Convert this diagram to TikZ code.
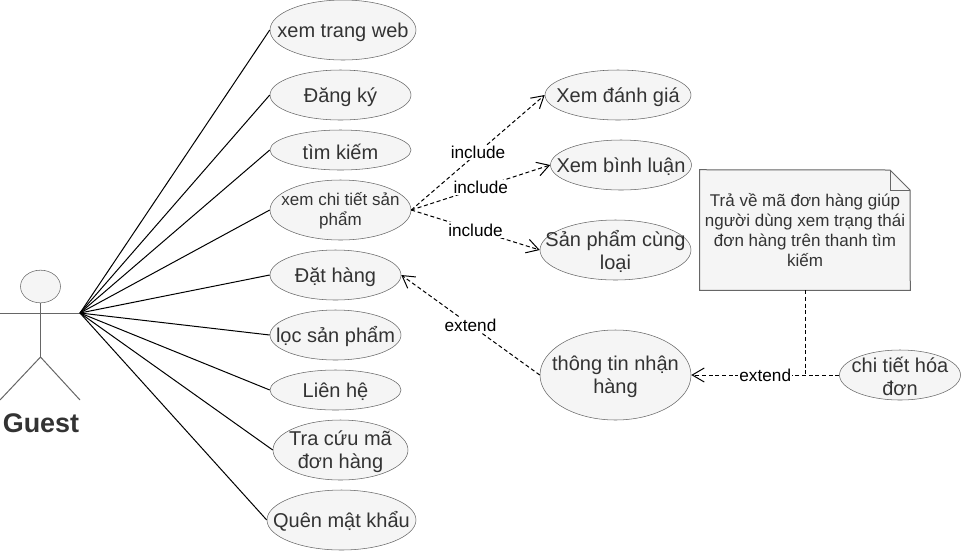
\documentclass[tikz,border=0pt]{standalone}
\usepackage{fontspec}
\setmainfont{Liberation Sans}
\usetikzlibrary{shapes.geometric,arrows.meta}
\definecolor{usefill}{HTML}{F5F5F5}
\definecolor{usedraw}{HTML}{666666}
\definecolor{usetext}{HTML}{333333}
\tikzset{
  main/.style 2 args = {draw=usedraw, fill=usefill, text=usetext, ellipse, inner xsep=-80pt, inner ysep=-40pt, align=center,
    minimum width=#1*0.75pt, minimum height=#2*0.75pt, text height=14pt, font=\fontsize{15}{17.5}\selectfont},
  two/.style = {text height=31.5pt},
  small/.style = {text height=26.5pt, font=\fontsize{12.75}{15}\selectfont},
  notetxt/.style = {text=usetext, align=center, inner sep=0pt, font=\fontsize{12.75}{15}\selectfont},
  assoc/.style = {draw=black, line width=0.75pt},
  dep/.style = {draw=black, line width=0.75pt, densely dashed, -{Straight Barb[length=9pt,width=10.5pt]}},
  lbl/.style = {fill=white, inner sep=1pt, text=black, font=\fontsize{12.9}{15}\selectfont},
  stick/.style = {draw=usedraw, line width=0.75pt}
}
\begin{document}
\begin{tikzpicture}[x=0.75pt, y=-0.75pt]
\useasboundingbox (0,0) rectangle (961,551);
% actor
\node[draw=usedraw, fill=usefill, ellipse, minimum width=30pt, minimum height=24.5pt, inner sep=0pt] (head) at (40.5,286.5) {};
\coordinate (guest) at (80,313);
\coordinate (armL) at (0,313);
\coordinate (hip) at (40.5,357);
\coordinate (legL) at (0,400);
\coordinate (legR) at (80,400);
\draw[stick] (head) -- (hip);
\draw[stick] (armL) -- (guest);
\draw[stick] (legL) -- (hip) -- (legR);
\node[text=usetext, inner sep=0pt, font=\fontsize{20.2}{24}\selectfont\bfseries] (name) at (41,423) {Guest};
% use cases
\node[main={146}{60}] (web) at (343,30) {xem trang web};
\node[main={141}{50}] (dangky) at (340.5,95) {Đăng ký};
\node[main={141}{40}] (timkiem) at (340.5,150) {tìm kiếm};
\node[main={141}{60}, small] (chitiet) at (340.5,210) {xem chi tiết sản\\phẩm};
\node[main={131}{50}] (dathang) at (335.5,275) {Đặt hàng};
\node[main={131}{50}] (loc) at (335.5,335) {lọc sản phẩm};
\node[main={131}{40}] (lienhe) at (335.5,390) {Liên hệ};
\node[main={135}{60}, two] (tracuu) at (340.5,450) {Tra cứu mã\\đơn hàng};
\node[main={149}{60}] (quenmk) at (341.5,520) {Quên mật khẩu};
\node[main={146}{50}] (danhgia) at (618,95) {Xem đánh giá};
\node[main={141}{50}] (binhluan) at (621,165) {Xem bình luận};
\node[main={151}{60}, two] (cungloai) at (615.5,250) {Sản phẩm cùng\\loại};
\node[main={151}{90}, two] (nhanhang) at (615.5,375) {thông tin nhận\\hàng};
\node[main={121}{50}, two] (hoadon) at (900,375) {chi tiết hóa\\đơn};
% note
\node[minimum width=157.5pt, minimum height=90pt, inner sep=0pt] (note) at (805,230) {};
\coordinate (fold) at (890,170);
\coordinate (foldb) at (910,190);
\coordinate (foldc) at (890,190);
\coordinate (join) at (805,375);
\draw[stick, fill=usefill] (note.north west) -- (fold) -- (foldb) -- (note.south east) -- (note.south west) -- cycle;
\draw[stick] (fold) -- (foldc) -- (foldb);
\node[notetxt] (notetext) at (805,230) {Trả về mã đơn hàng giúp\\người dùng xem trạng thái\\đơn hàng trên thanh tìm\\kiếm};
% associations
\foreach \uc in {web,dangky,timkiem,chitiet,dathang,loc,lienhe,tracuu,quenmk}
  \draw[assoc] (guest) -- (\uc.west);
% include and extend
\draw[dep] (chitiet.east) -- (danhgia.west) node[midway, lbl] (inc1) {include};
\draw[dep] (chitiet.east) -- (binhluan.west) node[midway, lbl] (inc2) {include};
\draw[dep] (chitiet.east) -- (cungloai.west) node[midway, lbl] (inc3) {include};
\draw[dep] (nhanhang.west) -- (dathang.east) node[midway, lbl] (ext1) {extend};
\draw[dep] (hoadon.west) -- (nhanhang.east) node[midway, lbl] (ext2) {extend};
\draw[assoc, densely dashed] (note.south) -- (join);
\end{tikzpicture}
\end{document}
